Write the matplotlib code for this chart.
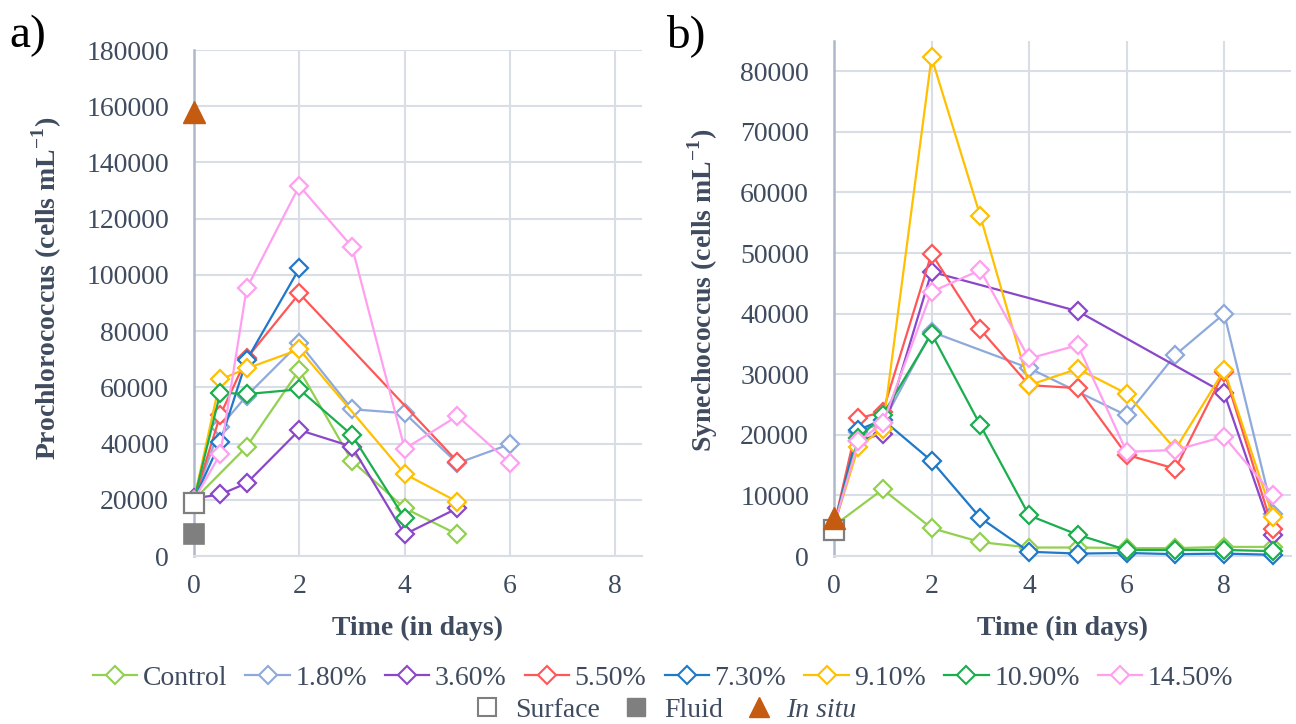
import matplotlib
matplotlib.use("Agg")
import matplotlib.pyplot as plt
from matplotlib.lines import Line2D

plt.rcParams['font.family'] = ['Liberation Serif', 'DejaVu Serif']
plt.rcParams['mathtext.fontset'] = 'custom'
plt.rcParams['mathtext.rm'] = 'Liberation Serif'
plt.rcParams['mathtext.bf'] = 'Liberation Serif:bold'

# ---------------- data ----------------
series_names = ['Control', '1.80%', '3.60%', '5.50%', '7.30%', '9.10%', '10.90%', '14.50%']
series_colors = ['#92D050', '#8EA9DB', '#8B47C9', '#FF5757', '#1F78C8', '#FFC000', '#1AAE4F', '#FF9FEF']

# Panel a: Prochlorococcus
days_a_control = [0, 1, 2, 3, 4, 5]
vals_a_control = [20000, 38900, 66200, 33800, 17000, 7700]
days_a_180 = [0, 0.5, 1, 2, 3, 4, 5, 6]
vals_a_180 = [20000, 46000, 57000, 75700, 52200, 50800, 33000, 39800]
days_a_360 = [0, 0.5, 1, 2, 3, 4, 5]
vals_a_360 = [20500, 21900, 25900, 44800, 38900, 7700, 17000]
days_a_550 = [0, 0.5, 1, 2, 5]
vals_a_550 = [20000, 50200, 70300, 93400, 33600]
days_a_730 = [0, 0.5, 1, 2]
vals_a_730 = [20000, 40700, 69700, 102300]
days_a_910 = [0, 0.5, 1, 2, 4, 5]
vals_a_910 = [20000, 62800, 66700, 73500, 29200, 19300]
days_a_1090 = [0, 0.5, 1, 2, 3, 4]
vals_a_1090 = [20000, 58100, 57600, 59300, 43000, 13400]
days_a_1450 = [0, 0.5, 1, 2, 3, 4, 5, 6]
vals_a_1450 = [20000, 36300, 95200, 131700, 110000, 38100, 49800, 33000]

surface_a = 19000
fluid_a = 8000
insitu_a = 158000

# Panel b: Synechococcus
days_b_control = [0, 1, 2, 3, 4, 5, 6, 7, 8, 9]
vals_b_control = [5000, 11000, 4600, 2300, 1400, 1400, 1300, 1300, 1500, 1500]
days_b_180 = [0, 0.5, 1, 2, 4, 6, 7, 8, 9]
vals_b_180 = [5000, 20500, 22000, 37000, 31000, 23200, 33200, 40000, 7000]
days_b_360 = [0, 0.5, 1, 2, 5, 8, 9]
vals_b_360 = [5000, 19000, 20200, 46900, 40400, 26900, 3500]
days_b_550 = [0, 0.5, 1, 2, 3, 4, 5, 6, 7, 8, 9]
vals_b_550 = [5000, 22700, 23800, 49900, 37400, 28200, 27700, 16700, 14400, 30400, 4400]
days_b_730 = [0, 0.5, 1, 2, 3, 4, 5, 6, 7, 8, 9]
vals_b_730 = [5000, 20800, 22500, 15700, 6300, 700, 400, 500, 300, 400, 200]
days_b_910 = [0, 0.5, 1, 2, 3, 4, 5, 6, 7, 8, 9]
vals_b_910 = [5000, 18000, 21000, 82300, 56100, 28200, 30900, 26800, 17600, 30700, 6500]
days_b_1090 = [0, 0.5, 1, 2, 3, 4, 5, 6, 7, 8, 9]
vals_b_1090 = [5000, 19400, 23300, 36700, 21600, 6700, 3500, 1000, 1000, 1000, 800]
days_b_1450 = [0, 0.5, 1, 2, 3, 4, 5, 6, 7, 8, 9]
vals_b_1450 = [5000, 18900, 21900, 43600, 47200, 32600, 34800, 17200, 17500, 19700, 10100]

surface_b = 4300
insitu_b = 6200

yticks_a = [0, 20000, 40000, 60000, 80000, 100000, 120000, 140000, 160000, 180000]
yticks_b = [0, 10000, 20000, 30000, 40000, 50000, 60000, 70000, 80000]
xticks = [0, 2, 4, 6, 8]

panel_a = [(days_a_control, vals_a_control), (days_a_180, vals_a_180), (days_a_360, vals_a_360),
           (days_a_550, vals_a_550), (days_a_730, vals_a_730), (days_a_910, vals_a_910),
           (days_a_1090, vals_a_1090), (days_a_1450, vals_a_1450)]
panel_b = [(days_b_control, vals_b_control), (days_b_180, vals_b_180), (days_b_360, vals_b_360),
           (days_b_550, vals_b_550), (days_b_730, vals_b_730), (days_b_910, vals_b_910),
           (days_b_1090, vals_b_1090), (days_b_1450, vals_b_1450)]

# ---------------- style ----------------
TXT = '#3F4B5E'
GRID = '#D9DEE6'
SPINE_L = '#ADB9CA'
INSITU = '#C55A11'
GRAY = '#7F7F7F'
FS = 20

W, H = 1296, 724
fig = plt.figure(figsize=(W / 100, H / 100), dpi=100)


def make_axes(l, r, t, b):
    return fig.add_axes([l / W, (H - b) / H, (r - l) / W, (b - t) / H])


ax_a = make_axes(194, 641.7, 50, 556)
ax_b = make_axes(834, 1291, 41, 556)

for ax, data, yt, ylim, xlim in [(ax_a, panel_a, yticks_a, (0, 180000), (0, 8.5)),
                                 (ax_b, panel_b, yticks_b, (0, 85000), (0, 9.37))]:
    ax.set_xlim(*xlim)
    ax.set_ylim(*ylim)
    ax.set_xticks(xticks)
    ax.set_yticks(yt)
    ax.grid(True, color=GRID, linewidth=1.5, zorder=0)
    ax.set_axisbelow(True)
    for s in ['top', 'right']:
        ax.spines[s].set_visible(False)
    ax.spines['left'].set_color(SPINE_L)
    ax.spines['left'].set_linewidth(1.8)
    ax.spines['bottom'].set_color(GRID)
    ax.spines['bottom'].set_linewidth(1.5)
    ax.tick_params(length=0, labelsize=FS, labelcolor=TXT)
    ax.tick_params(axis='y', pad=18)
    ax.tick_params(axis='x', pad=13)
    for (d, v), c in zip(data, series_colors):
        ax.plot(d, v, color=c, lw=1.6, marker='D', ms=9.5, mfc='white', mec=c, mew=1.6,
                zorder=3, clip_on=False)

# reference points
ax_a.plot([0], [surface_a], marker='s', ms=15, mfc='white', mec=GRAY, mew=1.6, ls='none', zorder=5, clip_on=False)
ax_a.plot([0], [fluid_a], marker='s', ms=15, mfc=GRAY, mec=GRAY, mew=1.2, ls='none', zorder=5, clip_on=False)
ax_a.plot([0], [insitu_a], marker='^', ms=16, mfc=INSITU, mec=INSITU, ls='none', zorder=5, clip_on=False)
ax_b.plot([0], [surface_b], marker='s', ms=15, mfc='white', mec=GRAY, mew=1.6, ls='none', zorder=5, clip_on=False)
ax_b.plot([0], [insitu_b], marker='^', ms=16, mfc=INSITU, mec=INSITU, ls='none', zorder=6, clip_on=False)

# axis labels
fig.text((194 + 641.7) / 2 / W, 1 - 628 / H, 'Time (in days)', ha='center', va='center',
         fontsize=FS, fontweight='bold', color=TXT)
fig.text((834 + 1291) / 2 / W, 1 - 628 / H, 'Time (in days)', ha='center', va='center',
         fontsize=FS, fontweight='bold', color=TXT)
fig.text(47 / W, 1 - 288 / H, 'Prochlorococcus (cells mL$^{\\mathbf{-1}}$)', rotation=90,
         ha='center', va='center', fontsize=FS, fontweight='bold', color=TXT)
fig.text(703 / W, 1 - 290 / H, 'Synechococcus (cells mL$^{\\mathbf{-1}}$)', rotation=90,
         ha='center', va='center', fontsize=FS, fontweight='bold', color=TXT)

fig.text(9 / W, 1 - 36 / H, 'a)', fontsize=34, ha='left', va='center', color='black')
fig.text(666 / W, 1 - 36 / H, 'b)', fontsize=34, ha='left', va='center', color='black')

# legends
handles1 = [Line2D([], [], color=c, lw=1.6, marker='D', ms=9, mfc='white', mec=c, mew=1.5)
            for c in series_colors]
leg1 = fig.legend(handles1, series_names, loc='center', bbox_to_anchor=(663 / W, 1 - 678 / H),
                  ncol=8, frameon=False, fontsize=FS, handlelength=1.6, handletextpad=0.2,
                  columnspacing=0.65, labelcolor=TXT, borderpad=0, borderaxespad=0)
handles2 = [Line2D([], [], ls='none', marker='s', ms=13, mfc='white', mec=GRAY, mew=1.5),
            Line2D([], [], ls='none', marker='s', ms=13, mfc=GRAY, mec=GRAY),
            Line2D([], [], ls='none', marker='^', ms=14, mfc=INSITU, mec=INSITU)]
leg2 = fig.legend(handles2, ['Surface', 'Fluid', 'In situ'], loc='center',
                  bbox_to_anchor=(665 / W, 1 - 710 / H), ncol=3, frameon=False, fontsize=FS,
                  handlelength=1.0, handletextpad=0.5, columnspacing=0.8, labelcolor=TXT,
                  borderpad=0, borderaxespad=0)
leg2.get_texts()[2].set_fontstyle('italic')

fig.savefig('out.png', dpi=100)
